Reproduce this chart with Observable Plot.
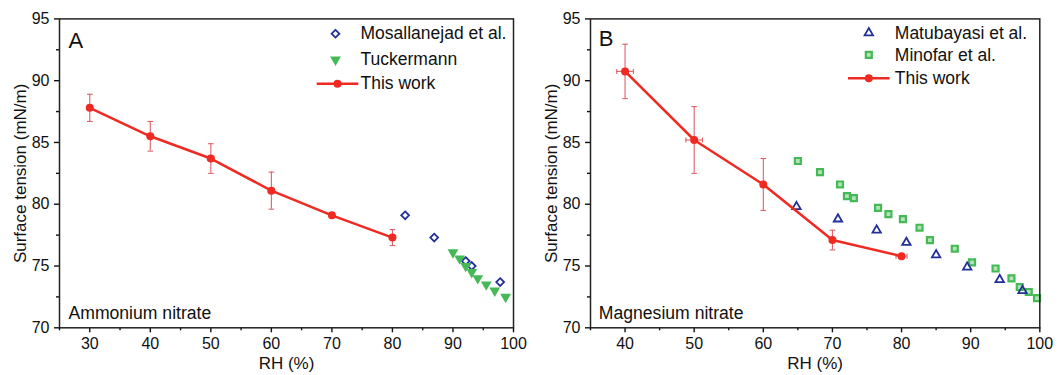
<!DOCTYPE html>
<html><head><meta charset="utf-8">
<script src="https://cdn.jsdelivr.net/npm/d3@7"></script>
<script src="https://cdn.jsdelivr.net/npm/@observablehq/plot@0.6"></script>
<style>
body{margin:0;background:#fff;}
#wrap{display:flex;width:1064px;height:375px;overflow:hidden;}
#wrap > svg{flex:none;}
</style></head><body><div id="wrap"></div>
<script>
// ---------- Panel A : Ammonium nitrate ----------
const rhA   = [30, 40, 50, 60, 70, 80];
const stA   = [87.8, 85.5, 83.7, 81.1, 79.1, 77.3];
const errA  = [1.1, 1.2, 1.2, 1.5, 0.2, 0.65];
const xerrA = [0, 0, 0.5, 0.5, 0, 0];
const mosRH = [82.1, 86.9, 92.1, 93.1, 97.8];
const mosST = [79.1, 77.3, 75.4, 75.0, 73.7];
const tucRH = [90.0, 91.1, 92.1, 93.1, 94.1, 95.5, 96.9, 98.7];
const tucST = [76.1, 75.6, 75.0, 74.5, 74.0, 73.5, 73.0, 72.5];

// ---------- Panel B : Magnesium nitrate ----------
const rhB   = [40, 50, 60, 70, 80];
const stB   = [90.75, 85.2, 81.6, 77.1, 75.8];
const errB  = [2.2, 2.7, 2.1, 0.8, 0.1];
const xerrB = [1.2, 1.2, 0, 0, 0.8];
const matRH = [64.8, 70.8, 76.4, 80.7, 85.0, 89.5, 94.2, 97.5];
const matST = [79.8, 78.8, 77.9, 76.9, 75.9, 74.9, 73.9, 73.0];
const minRH = [65.0, 68.2, 71.1, 72.1, 73.1, 76.6, 78.1, 80.2, 82.6, 84.1, 87.7, 90.2, 93.6, 95.9, 97.1, 98.4, 99.6];
const minST = [83.5, 82.6, 81.6, 80.65, 80.5, 79.7, 79.2, 78.8, 78.1, 77.1, 76.4, 75.3, 74.8, 74.0, 73.3, 72.9, 72.4];

// ---------- ticks & labels ----------
const yTicks  = [70, 75, 80, 85, 90, 95];
const yMinor  = [72.5, 77.5, 82.5, 87.5, 92.5];
const xTicksA = [30, 40, 50, 60, 70, 80, 90, 100];
const xMinorA = [25, 35, 45, 55, 65, 75, 85, 95];
const xTicksB = [40, 50, 60, 70, 80, 90, 100];
const xMinorB = [35, 45, 55, 65, 75, 85, 95];
const xTitle = "RH (%)";
const yTitle = "Surface tension (mN/m)";
const lgA = ["Mosallanejad et al.", "Tuckermann", "This work"];
const lgB = ["Matubayasi et al.", "Minofar et al.", "This work"];

const RED = "#ee2a22", ERR = "#e0606a", BLUE = "#23309a", GREEN = "#45b956";
const FONT = "Liberation Sans, Arial, sans-serif";

const hcap = {draw(ctx, size){ const r = Math.sqrt(size/Math.PI); ctx.moveTo(-r,0); ctx.lineTo(r,0); }};
const vcap = {draw(ctx, size){ const r = Math.sqrt(size/Math.PI); ctx.moveTo(0,-r); ctx.lineTo(0,r); }};

function rows(xs, ys, es, xes){ return xs.map((x,i)=>({x, y: ys[i], e: es ? es[i] : 0, xe: xes ? xes[i] : 0})); }

function legendTexts(labels, dx, ys){
  return labels.map((t, i) => Plot.text([t], {frameAnchor: "top-right", dx, dy: ys[i], lineAnchor: "middle", textAnchor: "start", fontSize: 17.5, fill: "#111"}));
}

function panel(cfg){
  const main = rows(cfg.rh, cfg.st, cfg.err, cfg.xerr);
  const xe = main.filter(d => d.xe > 0);
  return Plot.plot({
    width: cfg.width, height: 375,
    marginLeft: cfg.ml, marginRight: cfg.mr, marginTop: 18.4, marginBottom: 47.7,
    style: {fontFamily: FONT, fontSize: "16px", color: "#111", background: "white"},
    x: {domain: cfg.xdom},
    y: {domain: [70, 95]},
    marks: [
      Plot.axisX(cfg.xTicks, {tickSize: 5, tickPadding: 5, strokeWidth: 1.4, fontSize: 16, label: null}),
      Plot.axisX(cfg.xMinor, {tickSize: 3, strokeWidth: 1.4, tickFormat: () => "", label: null}),
      Plot.axisY(yTicks, {tickSize: 5, tickPadding: 5, strokeWidth: 1.4, fontSize: 16, label: null}),
      Plot.axisY(yMinor, {tickSize: 3, strokeWidth: 1.4, tickFormat: () => "", label: null}),
      ...cfg.refMarks,
      Plot.ruleX(main, {x: "x", y1: d => d.y - d.e, y2: d => d.y + d.e, stroke: ERR, strokeWidth: 1.1}),
      Plot.dot(main, {x: "x", y: d => d.y - d.e, symbol: hcap, r: 2.8, fill: "none", stroke: ERR, strokeWidth: 1.1}),
      Plot.dot(main, {x: "x", y: d => d.y + d.e, symbol: hcap, r: 2.8, fill: "none", stroke: ERR, strokeWidth: 1.1}),
      Plot.ruleY(xe, {y: "y", x1: d => d.x - d.xe, x2: d => d.x + d.xe, stroke: ERR, strokeWidth: 1.1}),
      Plot.dot(xe, {x: d => d.x - d.xe, y: "y", symbol: vcap, r: 2.5, fill: "none", stroke: ERR, strokeWidth: 1.1}),
      Plot.dot(xe, {x: d => d.x + d.xe, y: "y", symbol: vcap, r: 2.5, fill: "none", stroke: ERR, strokeWidth: 1.1}),
      Plot.line(main, {x: "x", y: "y", stroke: RED, strokeWidth: 2.5}),
      Plot.dot(main, {x: "x", y: "y", r: 4, fill: RED}),
      Plot.frame({stroke: "#222", strokeWidth: 1.5}),
      // panel letter & salt name
      Plot.text([cfg.letter], {frameAnchor: "top-left", dx: cfg.letterDx, dy: cfg.letterDy, lineAnchor: "top", textAnchor: "start", fontSize: 22, fill: "#111"}),
      Plot.text([cfg.salt], {frameAnchor: "bottom-left", dx: cfg.letterDx, dy: -14.5, lineAnchor: "middle", textAnchor: "start", fontSize: 17.6, fill: "#111"}),
      // legend
      ...cfg.legend,
      Plot.dot([0], {frameAnchor: "top-right", dx: cfg.lgX, dy: cfg.lgY[2], symbol: hcap, r: 20.8, fill: "none", stroke: RED, strokeWidth: 2.5}),
      Plot.dot([0], {frameAnchor: "top-right", dx: cfg.lgX, dy: cfg.lgY[2], r: 4, fill: RED}),
      ...legendTexts(cfg.lgText, cfg.lgTx, cfg.lgY),
      // axis titles
      Plot.text([xTitle], {frameAnchor: "bottom", dy: 41, lineAnchor: "bottom", textAnchor: "middle", fontSize: 17, fill: "#111"}),
      Plot.text([yTitle], {frameAnchor: "left", dx: -39, rotate: -90, lineAnchor: "middle", textAnchor: "middle", fontSize: 17, fill: "#111"})
    ]
  });
}

const lgYA = [14.8, 40.8, 64.8];
const lgYB = [14, 36, 59.4];

const A = panel({
  width: 530, ml: 59, mr: 17, xdom: [25, 100], rh: rhA, st: stA, err: errA, xerr: xerrA,
  xTicks: xTicksA, xMinor: xMinorA, letter: "A", salt: "Ammonium nitrate", letterDx: 9, letterDy: 13,
  refMarks: [
    Plot.dot(rows(mosRH, mosST), {x: "x", y: "y", symbol: "diamond2", r: 3.5, stroke: BLUE, strokeWidth: 1.8, fill: "none"}),
    Plot.dot(rows(tucRH, tucST), {x: "x", y: "y", symbol: "triangle", rotate: 180, r: 4, fill: GREEN})
  ],
  legend: [
    Plot.dot([0], {frameAnchor: "top-right", dx: -178, dy: lgYA[0], symbol: "diamond2", r: 3.5, stroke: BLUE, strokeWidth: 1.8, fill: "none"}),
    Plot.dot([0], {frameAnchor: "top-right", dx: -178, dy: lgYA[1], symbol: "triangle", rotate: 180, r: 4, fill: GREEN})
  ],
  lgX: -176, lgY: lgYA, lgTx: -153, lgText: lgA
});

const B = panel({
  width: 534, ml: 60, mr: 24.7, xdom: [35, 100], rh: rhB, st: stB, err: errB, xerr: xerrB,
  xTicks: xTicksB, xMinor: xMinorB, letter: "B", salt: "Magnesium nitrate", letterDx: 8.3, letterDy: 11.7,
  refMarks: [
    Plot.dot(rows(minRH, minST), {x: "x", y: "y", symbol: "square2", r: 3.8, stroke: GREEN, strokeWidth: 2.2, fill: "#b5e3b8"}),
    Plot.dot(rows(matRH, matST), {x: "x", y: "y", symbol: "triangle2", r: 4, stroke: BLUE, strokeWidth: 1.8, fill: "none"})
  ],
  legend: [
    Plot.dot([0], {frameAnchor: "top-right", dx: -171, dy: lgYB[0], symbol: "triangle2", r: 4, stroke: BLUE, strokeWidth: 1.8, fill: "none"}),
    Plot.dot([0], {frameAnchor: "top-right", dx: -171, dy: lgYB[1], symbol: "square2", r: 3.8, stroke: GREEN, strokeWidth: 2.2, fill: "#b5e3b8"})
  ],
  lgX: -171, lgY: lgYB, lgTx: -145, lgText: lgB
});

document.getElementById("wrap").append(A, B);
</script>
</body></html>
